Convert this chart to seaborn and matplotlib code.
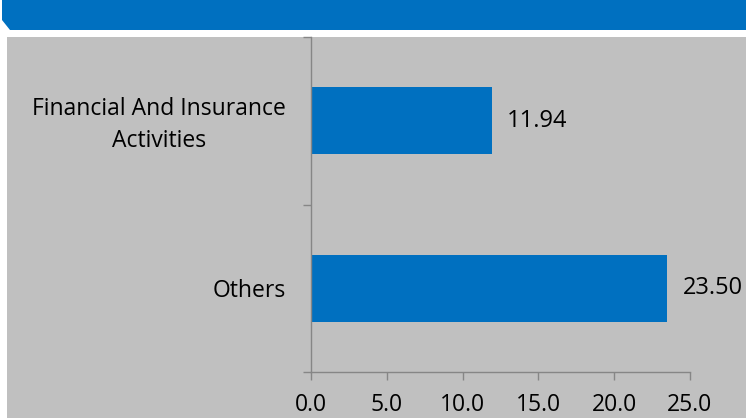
import matplotlib
matplotlib.use("Agg")
import matplotlib.pyplot as plt
from matplotlib.patches import Polygon, Rectangle
from matplotlib.ticker import FixedLocator
from matplotlib.transforms import ScaledTranslation
import seaborn as sns
import pandas as pd

# Chart data
categories = ["Financial And Insurance\nActivities", "Others"]
values = [11.94, 23.50]
x_ticks = [0, 5, 10, 15, 20, 25]

BLUE = "#0070c0"
PANEL = "#c0c0c0"
AXIS = "#868686"

sns.set_theme(style="white")
plt.rcParams["font.family"] = ["Open Sans", "DejaVu Sans"]

W, H = 746, 418
fig = plt.figure(figsize=(W / 100, H / 100), dpi=100, facecolor="white")


def fx(px):
    return px / W


def fy(py):
    return 1 - py / H


# Header banner with the clipped lower-left corner
banner = Polygon(
    [(fx(2), fy(0)), (fx(W), fy(0)), (fx(W), fy(30)), (fx(10), fy(30)), (fx(2), fy(20))],
    closed=True, transform=fig.transFigure, facecolor=BLUE, edgecolor="none", zorder=-10,
)
fig.patches.append(banner)

# Grey chart panel
panel = Rectangle((fx(7), 0), fx(W) - fx(7), fy(37), transform=fig.transFigure,
                  facecolor=PANEL, edgecolor="none", zorder=-10)
fig.patches.append(panel)

ax = fig.add_axes([fx(311), fy(372), fx(690) - fx(311), fy(37) - fy(372)])
ax.set_facecolor("none")
ax.set_zorder(5)

df = pd.DataFrame({"category": categories, "value": values})
sns.barplot(data=df, x="value", y="category", orient="h", color=BLUE,
            width=0.4, saturation=1, linewidth=0, ax=ax)

ax.set_xlim(0, 25)
ax.set_ylim(1.5, -0.5)
ax.set_xticks(x_ticks)
ax.set_xticklabels([f"{t:.1f}" for t in x_ticks])
ax.set_xlabel("")
ax.set_ylabel("")

for side in ["top", "right"]:
    ax.spines[side].set_visible(False)
for side in ["left", "bottom"]:
    ax.spines[side].set_color(AXIS)
    ax.spines[side].set_linewidth(1.0)

fs = 16.5
ax.tick_params(axis="x", which="major", length=6, width=1.0, color=AXIS,
               direction="out", bottom=True, labelsize=fs, labelcolor="black", pad=9)
ax.tick_params(axis="y", which="major", length=0, labelsize=fs,
               labelcolor="black", pad=18)
ax.yaxis.set_minor_locator(FixedLocator([-0.5, 0.5, 1.5]))
ax.tick_params(axis="y", which="minor", length=6, width=1.0, color=AXIS,
               direction="out", left=True)

# Two-line category labels: centred lines, slightly raised
lift = ScaledTranslation(0, 3 / 100, fig.dpi_scale_trans)
for lbl in ax.get_yticklabels():
    lbl.set_multialignment("center")
    if "\n" in lbl.get_text():
        lbl.set_linespacing(1.45)
        lbl.set_transform(lbl.get_transform() + lift)

for container in ax.containers:
    ax.bar_label(container, labels=[f"{v:.2f}" for v in values], padding=11,
                 fontsize=fs + 0.5, color="black")

fig.savefig("out.png", dpi=100, facecolor="white")
